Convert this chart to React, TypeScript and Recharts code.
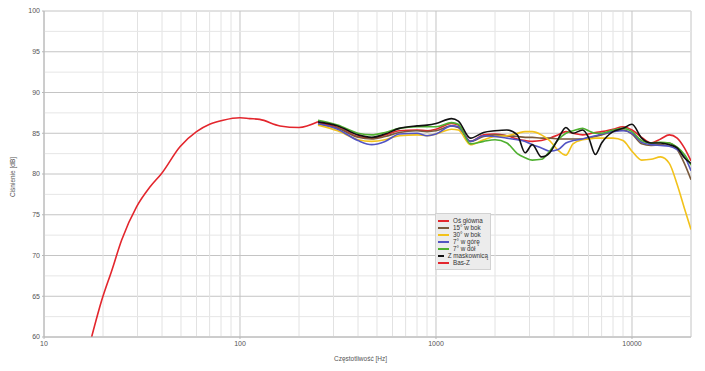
import React from 'react';
import { LineChart, Line, XAxis, YAxis, CartesianGrid, ReferenceLine } from 'recharts';

// frequencies [Hz] shared by the six measurement curves
const FREQ = [
  250, 315, 400, 470, 550, 650, 800, 900, 1000, 1200, 1300, 1500, 1750, 2000, 2300, 2600, 2850, 3100, 3450,
  3800, 4200, 4600, 5000, 5600, 6000, 6500, 7000, 8000, 9000, 10000, 11200, 12500, 14000, 15500, 17000, 18500, 20000,
];

const OS_GLOWNA = [
  86.3, 85.7, 84.6, 84.4, 84.8, 85.3, 85.4, 85.3, 85.5, 86.2, 86.0, 84.0, 84.8, 84.9, 84.7, 84.3, 84.1, 84.0, 84.1,
  84.4, 84.8, 85.2, 85.0, 84.8, 84.9, 85.1, 85.2, 85.5, 85.8, 85.4, 84.5, 83.8, 84.3, 84.8, 84.4, 83.2, 81.6,
];
const BOK_15 = [
  86.1, 85.6, 84.5, 84.3, 84.6, 85.1, 85.3, 85.2, 85.3, 85.9, 85.7, 84.0, 84.6, 84.8, 84.7, 84.6, 84.5, 84.5, 84.4,
  84.4, 84.3, 84.3, 84.3, 84.3, 84.4, 84.6, 84.8, 85.2, 85.4, 84.9, 83.7, 83.5, 83.6, 83.8, 83.0, 81.3, 79.3,
];
const BOK_30 = [
  86.0, 85.3, 84.2, 84.0, 84.2, 84.7, 84.8, 84.7, 84.9, 85.5, 85.4, 83.6, 84.2, 84.6, 84.7, 85.0, 85.2, 85.2, 84.8,
  84.1, 82.9, 82.3, 83.7, 84.2, 84.3, 84.4, 84.4, 84.4, 84.1, 82.8, 81.7, 81.8, 82.1, 81.3, 78.7, 75.8, 73.2,
];
const GORA_7 = [
  86.2, 85.5, 84.1, 83.6, 84.0, 84.9, 85.0, 84.7, 84.9, 85.9, 85.8, 84.0, 84.7, 84.6, 84.4, 84.2, 84.0, 83.6, 83.2,
  82.8, 83.0, 83.8, 84.1, 84.3, 84.5, 84.7, 84.9, 85.2, 85.3, 85.0, 83.9, 83.6, 83.5, 83.4, 83.0, 82.2, 80.4,
];
const DOL_7 = [
  86.6, 86.0, 85.0, 84.8, 85.1, 85.6, 85.8, 85.8, 85.8, 86.3, 86.1, 83.7, 84.0, 84.2, 83.8, 82.5, 82.0, 81.7, 81.8,
  82.8, 84.2, 85.0, 85.3, 85.6, 85.3, 85.0, 85.0, 85.4, 85.6, 85.2, 84.1, 83.8, 83.9, 83.8, 83.3, 82.4, 81.1,
];
const MASKOWNICA = [
  86.4, 85.9, 84.8, 84.5, 84.9, 85.6, 85.9, 86.0, 86.2, 86.8, 86.5, 84.4, 85.1, 85.3, 85.4, 84.8, 82.6, 83.6, 82.1,
  82.6, 84.3, 85.7, 85.0, 85.4, 84.5, 82.4, 83.8, 85.2, 85.6, 86.1, 84.4, 83.8, 83.8, 83.6, 83.2, 82.0, 81.3,
];

const BASZ_FREQ = [17.5, 19.7, 22.2, 24.9, 29.7, 34.7, 39.9, 49.4, 60, 70, 82, 100, 112, 126, 160, 200, 250];
const BASZ = [60, 64.5, 68.2, 71.9, 76.0, 78.4, 80.1, 83.35, 85.2, 86.1, 86.6, 86.9, 86.8, 86.7, 85.9, 85.7, 86.4];

const X_TICKS = [10, 100, 1000, 10000];
const X_MINOR = [
  20, 30, 40, 50, 60, 70, 80, 90, 200, 300, 400, 500, 600, 700, 800, 900,
  2000, 3000, 4000, 5000, 6000, 7000, 8000, 9000, 20000,
];
const Y_TICKS = [60, 65, 70, 75, 80, 85, 90, 95, 100];
const Y_MINOR = [62.5, 67.5, 72.5, 77.5, 82.5, 87.5, 92.5, 97.5];

const series = [
  { name: 'Oś główna', color: '#e3262d', freq: FREQ, values: OS_GLOWNA },
  { name: '15° w bok', color: '#7a5a3c', freq: FREQ, values: BOK_15 },
  { name: '30° w bok', color: '#f2c21b', freq: FREQ, values: BOK_30 },
  { name: '7° w górę', color: '#5254c4', freq: FREQ, values: GORA_7 },
  { name: '7° w dół', color: '#4fb030', freq: FREQ, values: DOL_7 },
  { name: 'Z maskownicą', color: '#111111', freq: FREQ, values: MASKOWNICA },
  { name: 'Bas-Z', color: '#e3262d', freq: BASZ_FREQ, values: BASZ },
];

const FONT = '"Liberation Sans", Arial, sans-serif';
const tick = { fontSize: 7, fill: '#555', fontFamily: FONT };

const YTitle = ({ viewBox }: any) => {
  const x = viewBox.x + 12;
  const y = viewBox.y + viewBox.height / 2 + 3;
  return (
    <text x={x} y={y} transform={`rotate(-90 ${x} ${y})`} textAnchor="middle" dominantBaseline="central"
      fontSize={6.5} fill="#555" fontFamily={FONT}>Ciśnienie [dB]</text>
  );
};

const XTitle = ({ viewBox }: any) => (
  <text x={viewBox.x + viewBox.width / 2 - 7} y={viewBox.y + 23.5} textAnchor="middle"
    fontSize={6.5} fill="#555" fontFamily={FONT}>Częstotliwość [Hz]</text>
);

export default function App() {
  return (
    <div style={{ position: 'absolute', left: 0, top: 0, width: 705, height: 371, background: '#fff' }}>
      <LineChart width={705} height={371} margin={{ top: 11, right: 14, left: 0, bottom: 0 }}>
        <CartesianGrid stroke="#c4c4c4" strokeWidth={1} />
        {X_MINOR.map((v) => (
          <ReferenceLine key={'x' + v} x={v} stroke="#e2e2e2" strokeWidth={1} />
        ))}
        {Y_MINOR.map((v) => (
          <ReferenceLine key={'y' + v} y={v} stroke="#e6e6e6" strokeWidth={1} />
        ))}
        <XAxis dataKey="f" type="number" scale="log" domain={[10, 20000]} allowDataOverflow ticks={X_TICKS}
          height={34} tickSize={2} tickMargin={2} tick={tick} axisLine={{ stroke: '#b8b8b8' }}
          tickLine={{ stroke: '#b8b8b8' }} label={{ content: XTitle }} />
        <YAxis type="number" domain={[60, 100]} allowDataOverflow ticks={Y_TICKS} width={44} tickSize={2}
          tickMargin={2} tick={tick} axisLine={{ stroke: '#b8b8b8' }} tickLine={{ stroke: '#b8b8b8' }}
          label={{ content: YTitle }} />
        {series.map((s) => (
          <Line key={s.name} name={s.name} data={s.freq.map((f, i) => ({ f, v: s.values[i] }))} dataKey="v"
            type="monotone" stroke={s.color} strokeWidth={1.6} dot={false} isAnimationActive={false} />
        ))}
      </LineChart>
      <div style={{
        position: 'absolute', left: 435, top: 213, width: 56, boxSizing: 'border-box',
        background: '#ececec', border: '1px solid #d2d2d2', padding: '3px 2px 3px 2px',
        fontFamily: FONT, fontSize: 6.3, color: '#333',
      }}>
        {series.map((s) => (
          <div key={s.name} style={{ display: 'flex', alignItems: 'center', height: 7, whiteSpace: 'nowrap' }}>
            <span style={{ width: 11, height: 2, background: s.color, marginRight: 4, display: 'inline-block' }} />
            {s.name}
          </div>
        ))}
      </div>
    </div>
  );
}
